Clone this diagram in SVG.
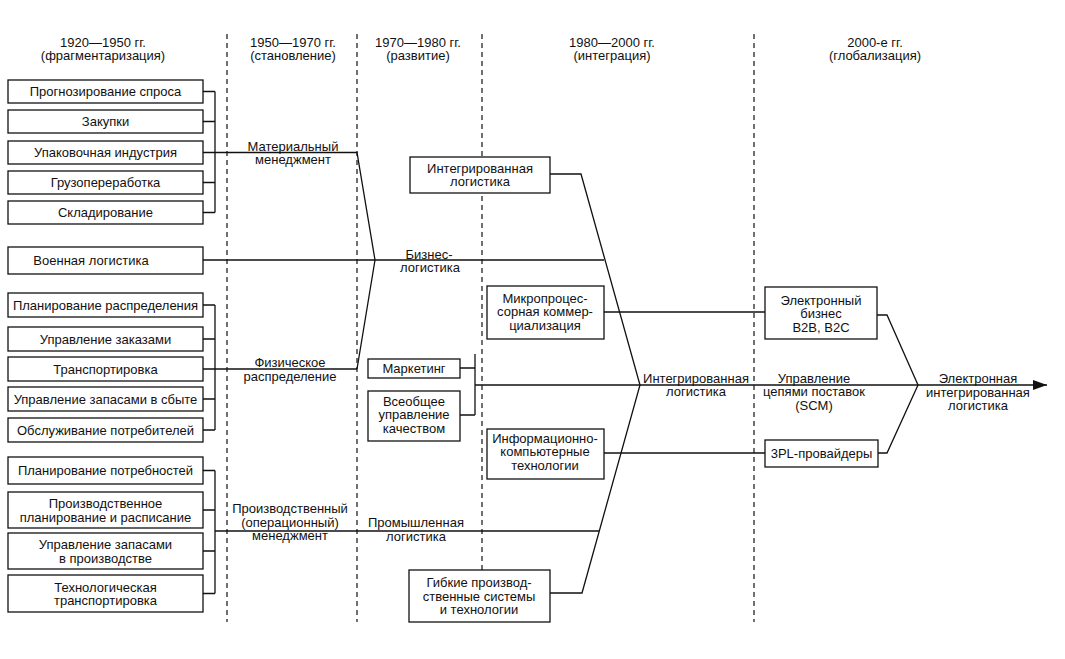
<svg xmlns="http://www.w3.org/2000/svg" width="1065" height="659" viewBox="0 0 1065 659">
<defs>
<style>
text{font-family:"Liberation Sans",Arial,sans-serif;font-size:13px;fill:#111;text-anchor:middle}
.box{fill:#fff;stroke:#111;stroke-width:1.3}
.ln{fill:none;stroke:#111;stroke-width:1.3}
.dash{fill:none;stroke:#111;stroke-width:1.2;stroke-dasharray:5 4}
</style>
<marker id="arr" markerWidth="15" markerHeight="11" refX="14" refY="5" orient="auto" markerUnits="userSpaceOnUse">
<path d="M0,0 L14,5 L0,10 Z" fill="#111"/>
</marker>
</defs>
<rect width="1065" height="659" fill="#fff"/>

<g id="dividers">
<line class="dash" x1="227" y1="34" x2="227" y2="622"/>
<line class="dash" x1="357" y1="34" x2="357" y2="622"/>
<line class="dash" x1="482" y1="34" x2="482" y2="622"/>
<line class="dash" x1="754" y1="34" x2="754" y2="622"/>
</g>

<g id="headers">
<text x="103" y="46.5">1920—1950 гг.</text><text x="103" y="60">(фрагментаризация)</text>
<text x="293" y="46.5">1950—1970 гг.</text><text x="293" y="60">(становление)</text>
<text x="418" y="46.5">1970—1980 гг.</text><text x="418" y="60">(развитие)</text>
<text x="612" y="46.5">1980—2000 гг.</text><text x="612" y="60">(интеграция)</text>
<text x="875" y="46.5">2000-е гг.</text><text x="875" y="60">(глобализация)</text>
</g>

<g id="connectors">
<path class="ln" d="M203,91.5H215M203,121.5H215M203,152.5H215M203,182.5H215M203,212.5H215M215,91.5V212.5"/>
<path class="ln" d="M215,152.5H357L375,260L357,369"/>
<path class="ln" d="M203,305H215M203,339H215M203,369H215M203,399H215M203,430H215M215,305V430"/>
<path class="ln" d="M215,369H357"/>
<path class="ln" d="M203,260H604"/>
<path class="ln" d="M203,470.5H215M203,510H215M203,551H215M203,593.5H215M215,470.5V593.5"/>
<path class="ln" d="M215,531H599"/>
<path class="ln" d="M550,174H581L640,385L582,593H550"/>
<path class="ln" d="M460,368H475M460,415H475M475,354V415"/>
<path class="ln" d="M475,385H1047" marker-end="url(#arr)"/>
<path class="ln" d="M604,312H765"/>
<path class="ln" d="M604,453H765"/>
<path class="ln" d="M877,315H887L918,385L887,453H878"/>
</g>

<g id="flow-labels">
<text x="293" y="150.5">Материальный</text><text x="293" y="163.5">менеджмент</text>
<text x="290" y="366.5">Физическое</text><text x="290" y="380.5">распределение</text>
<text x="290" y="512.5">Производственный</text><text x="290" y="526.5">(операционный)</text><text x="290" y="539.5">менеджмент</text>
<text x="429" y="258.5">Бизнес-</text><text x="430" y="271.5">логистика</text>
<text x="416" y="526.5">Промышленная</text><text x="416" y="540.5">логистика</text>
<text x="696" y="382.5">Интегрированная</text><text x="696" y="396">логистика</text>
<text x="814" y="382.5">Управление</text><text x="814" y="396">цепями поставок</text><text x="814" y="409.5">(SCM)</text>
<text x="978" y="383">Электронная</text><text x="978" y="396.5">интегрированная</text><text x="978" y="410">логистика</text>
</g>

<g id="n-prognoz"><rect class="box" x="8" y="80" width="195" height="23"/><text x="105.5" y="96">Прогнозирование спроса</text></g>
<g id="n-zakupki"><rect class="box" x="8" y="110" width="195" height="23"/><text x="105.5" y="126">Закупки</text></g>
<g id="n-upakov"><rect class="box" x="8" y="141" width="195" height="23"/><text x="105.5" y="157">Упаковочная индустрия</text></g>
<g id="n-gruz"><rect class="box" x="8" y="171" width="195" height="23"/><text x="105.5" y="187">Грузопереработка</text></g>
<g id="n-sklad"><rect class="box" x="8" y="201" width="195" height="23"/><text x="105.5" y="217">Складирование</text></g>

<g id="n-voen"><rect class="box" x="8" y="247" width="195" height="27"/><text x="91" y="265">Военная логистика</text></g>

<g id="n-plan-raspr"><rect class="box" x="8" y="293" width="195" height="24"/><text x="105.5" y="309.5">Планирование распределения</text></g>
<g id="n-upr-zak"><rect class="box" x="8" y="327" width="195" height="24"/><text x="105.5" y="343.5">Управление заказами</text></g>
<g id="n-transp"><rect class="box" x="8" y="357" width="195" height="24"/><text x="105.5" y="373.5">Транспортировка</text></g>
<g id="n-zap-sbyt"><rect class="box" x="8" y="387" width="195" height="24"/><text x="105.5" y="403.5">Управление запасами в сбыте</text></g>
<g id="n-obsl"><rect class="box" x="8" y="418" width="195" height="24"/><text x="105.5" y="434.5">Обслуживание потребителей</text></g>

<g id="n-plan-potr"><rect class="box" x="8" y="457" width="195" height="27"/><text x="105.5" y="475">Планирование потребностей</text></g>
<g id="n-proizv-plan"><rect class="box" x="8" y="492" width="195" height="36"/><text x="105.5" y="508">Производственное</text><text x="105.5" y="521.5">планирование и расписание</text></g>
<g id="n-zap-proizv"><rect class="box" x="8" y="533" width="195" height="36"/><text x="105.5" y="549">Управление запасами</text><text x="105.5" y="562.5">в производстве</text></g>
<g id="n-tehn-transp"><rect class="box" x="8" y="575" width="195" height="37"/><text x="105.5" y="591.5">Технологическая</text><text x="105.5" y="605">транспортировка</text></g>

<g id="n-integr"><rect class="box" x="410" y="157" width="140" height="36"/><text x="480" y="172.5">Интегрированная</text><text x="480" y="186">логистика</text></g>
<g id="n-marketing"><rect class="box" x="368" y="359" width="92" height="19"/><text x="414" y="373">Маркетинг</text></g>
<g id="n-tqm"><rect class="box" x="368" y="391" width="92" height="50"/><text x="414" y="405.5">Всеобщее</text><text x="414" y="419">управление</text><text x="414" y="432.5">качеством</text></g>
<g id="n-micro"><rect class="box" x="487" y="286" width="117" height="53"/><text x="545" y="302.5">Микропроцес-</text><text x="545" y="316">сорная коммер-</text><text x="545" y="329.5">циализация</text></g>
<g id="n-info"><rect class="box" x="487" y="429" width="117" height="50"/><text x="545" y="442.5">Информационно-</text><text x="545" y="456">компьютерные</text><text x="545" y="469.5">технологии</text></g>
<g id="n-gibkie"><rect class="box" x="409" y="570" width="141" height="52"/><text x="479" y="587">Гибкие производ-</text><text x="479" y="600.5">ственные системы</text><text x="479" y="614">и технологии</text></g>
<g id="n-ebiz"><rect class="box" x="765" y="287" width="112" height="52"/><text x="821" y="304.5">Электронный</text><text x="821" y="318">бизнес</text><text x="821" y="331.5">B2B, B2C</text></g>
<g id="n-3pl"><rect class="box" x="765" y="440" width="113" height="27"/><text x="821.5" y="458">3PL-провайдеры</text></g>
</svg>
